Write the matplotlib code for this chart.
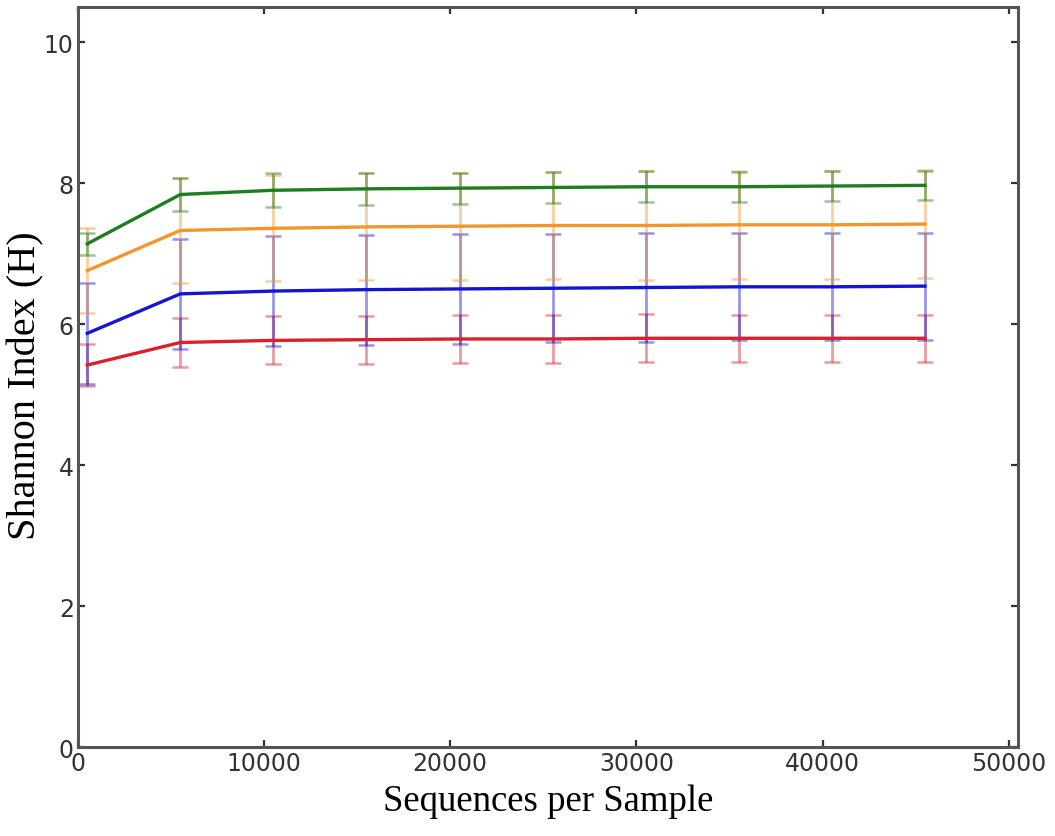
import matplotlib
matplotlib.use("Agg")
import matplotlib.pyplot as plt

depths = [500, 5500, 10500, 15500, 20500, 25500, 30500, 35500, 40500, 45500]

green_mean = [7.14, 7.84, 7.90, 7.92, 7.93, 7.94, 7.95, 7.95, 7.96, 7.97]
green_err = [0.16, 0.23, 0.24, 0.23, 0.22, 0.22, 0.22, 0.21, 0.21, 0.21]
orange_mean = [6.76, 7.33, 7.36, 7.38, 7.39, 7.40, 7.40, 7.41, 7.41, 7.42]
orange_err = [0.60, 0.74, 0.75, 0.76, 0.76, 0.76, 0.77, 0.77, 0.77, 0.77]
blue_mean = [5.87, 6.43, 6.47, 6.49, 6.50, 6.51, 6.52, 6.53, 6.53, 6.54]
blue_err = [0.72, 0.78, 0.78, 0.78, 0.78, 0.77, 0.77, 0.76, 0.76, 0.76]
red_mean = [5.42, 5.74, 5.77, 5.78, 5.79, 5.79, 5.80, 5.80, 5.80, 5.80]
red_err = [0.30, 0.35, 0.34, 0.34, 0.34, 0.34, 0.34, 0.33, 0.33, 0.33]

series = [
    (red_mean, red_err, "#d9202c"),
    (blue_mean, blue_err, "#1414d2"),
    (orange_mean, orange_err, "#f2962c"),
    (green_mean, green_err, "#1e7d1e"),
]

xticks = [0, 10000, 20000, 30000, 40000, 50000]
yticks = [0, 2, 4, 6, 8, 10]

fig = plt.figure(figsize=(10.55, 8.37), dpi=100)
ax = fig.add_axes([0.0739, 0.1063, 0.891, 0.8841])

for mean, err, col in series:
    ax.errorbar(depths, mean, yerr=err, fmt="none", ecolor=col, elinewidth=2.0,
                capsize=5.5, capthick=1.8, alpha=0.45, zorder=2)
for mean, err, col in series:
    ax.plot(depths, mean, color=col, lw=2.4, zorder=3)

ax.set_xlim(0, 50500)
ax.set_ylim(0, 10.5)
ax.set_xticks(xticks)
ax.set_yticks(yticks)
ax.set_xticklabels([str(t) for t in xticks])
ax.set_yticklabels([str(t) for t in yticks])

for s in ax.spines.values():
    s.set_color("#555555")
    s.set_linewidth(2.2)

ax.tick_params(direction="in", length=5, width=1.6, color="#333333",
               top=True, right=True, labelsize=17, labelcolor="#333333", pad=3)

ax.set_xlabel("Sequences per Sample", family="Liberation Serif", fontsize=26.5, labelpad=6)
ax.set_ylabel("Shannon Index (H)", family="Liberation Serif", fontsize=29)
ax.yaxis.set_label_coords(-0.036, 0.49)

fig.savefig("out.png", dpi=100)
